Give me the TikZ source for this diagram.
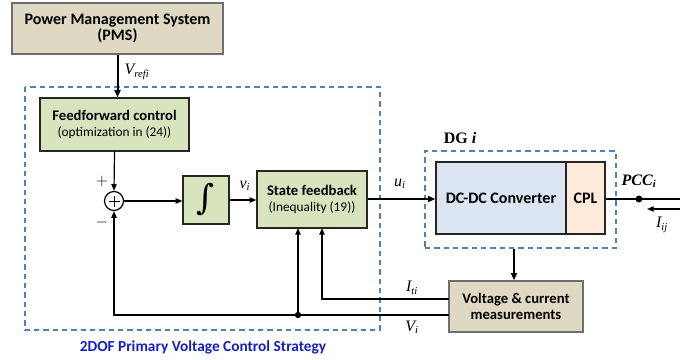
\documentclass[tikz,border=0pt]{standalone}
\usepackage{fontspec}
\setmainfont{Carlito}
\newfontfamily\tnr{Liberation Serif}
\newfontfamily\djs{DejaVu Serif}
\usetikzlibrary{arrows.meta,calc}
\definecolor{pmsfill}{RGB}{221,217,195}
\definecolor{grfill}{RGB}{215,228,189}
\definecolor{dcfill}{RGB}{220,230,242}
\definecolor{cplfill}{RGB}{253,234,218}
\definecolor{frameblue}{RGB}{79,129,189}
\definecolor{capblue}{RGB}{20,30,200}
\definecolor{boxgray}{RGB}{110,110,110}
\newcommand\mylab[2]{{\tnr\itshape #1}\textsubscript{\tnr\itshape #2}}
\tikzset{
  blk/.style={draw=#1, line width=1pt, inner sep=0pt, align=center},
  ar/.style={-{Triangle[length=5pt,width=4pt]}, line width=0.9pt},
  thk/.style={-{Triangle[length=5.5pt,width=4.5pt]}, line width=1.5pt},
  dframe/.style={draw=frameblue, dashed, dash pattern=on 4pt off 3pt, line width=0.9pt},
  lbl/.style={font=\fontsize{12}{12}\selectfont},
}
\begin{document}
\begin{tikzpicture}[x=0.75pt,y=-0.75pt]
\useasboundingbox (0,0) rectangle (696,360);
% outer dashed frame
\draw[dframe] (25,87) rectangle (380,330);
\node[dframe, minimum width=143.25pt, minimum height=72.75pt, inner sep=0pt] (dg) at (520.5,199.5) {};
% blocks
\node[blk=boxgray, fill=pmsfill, minimum width=158.25pt, minimum height=38.25pt] (pms) at (117.5,28.5)
  {\fontsize{12}{15}\selectfont\bfseries Power Management System\\ \fontsize{12}{15}\selectfont\bfseries (PMS)};
\node[blk=black!85, fill=grfill, minimum width=111.75pt, minimum height=39.75pt] (ff) at (114.5,124.5)
  {\fontsize{11}{14}\selectfont\bfseries Feedforward control\\ \fontsize{10}{13}\selectfont (optimization in (24))};
\node[draw, circle, line width=0.9pt, minimum size=14.25pt, inner sep=0pt] (sum) at (114,201) {};
\draw[line width=0.6pt] ($(sum.center)+(-5.5,0)$) -- ($(sum.center)+(5.5,0)$);
\draw[line width=0.6pt] ($(sum.center)+(0,-5.5)$) -- ($(sum.center)+(0,5.5)$);
\node[blk=black!85, fill=grfill, minimum width=34.5pt, minimum height=36pt] (int) at (206,200)
  {\djs\fontsize{26}{26}\selectfont ∫};
\node[blk=black!85, fill=grfill, minimum width=82.5pt, minimum height=42.75pt] (sf) at (312,199.5)
  {\fontsize{11}{14}\selectfont\bfseries State feedback\\ \fontsize{10}{13}\selectfont (Inequality (19))};
\node[blk=black!85, fill=dcfill, minimum width=97.5pt, minimum height=54pt] (dc) at (501,198)
  {\fontsize{12}{14}\selectfont\bfseries DC-DC Converter};
\node[blk=black!85, fill=cplfill, minimum width=29.25pt, minimum height=54pt] (cpl) at (585.5,198)
  {\fontsize{12}{14}\selectfont\bfseries CPL};
\node[blk=boxgray, fill=pmsfill, minimum width=100.5pt, minimum height=38.25pt] (meas) at (516,306.5)
  {\fontsize{11}{14}\selectfont\bfseries Voltage \& current\\ \fontsize{11}{14}\selectfont\bfseries measurements};
% coordinates
\coordinate (iti) at (449,299);
\coordinate (vim) at (449,315);
\coordinate (itcorner) at (322,299);
\coordinate (sfI) at (322,228);
\coordinate (vdot) at (298,315);
\coordinate (sfV) at (298,228);
\coordinate (vcorner) at (114,315);
\coordinate (pccend) at (680,199);
\coordinate (pcc) at (639,199);
\coordinate (ijs) at (680,209);
\coordinate (ije) at (647,209);
% connectors
\draw[thk] (pms.south) -- (pms.south |- ff.north);
\draw[ar] (ff.south) -- (sum.north);
\draw[ar] (sum.east) -- (sum.east -| int.west);
\draw[ar] (int.east) -- (int.east -| sf.west);
\draw[thk] (sf.east |- 0,199) -- (dc.west |- 0,199);
\draw[line width=1.5pt] (cpl.east |- pcc) -- (pccend);
\fill (pcc) circle (3.5);
\draw[ar] (ijs) -- (ije);
\draw[thk] (dg.south -| 514,0) -- (meas.north -| 514,0);
\draw[ar] (iti) -- (itcorner) -- (sfI);
\draw[ar] (vim) -- (vcorner) -- (sum.south);
\draw[ar] (vdot) -- (sfV);
\fill (vdot) circle (3.2);
% labels
\node[lbl] at (137,72) {\mylab{V}{refi}};
\node[font=\fontsize{12}{12}\selectfont] at (102,181) {$+$};
\node[font=\fontsize{12}{12}\selectfont] at (102,222) {$-$};
\node[lbl] at (245,186) {\mylab{v}{i}};
\node[lbl] at (400,184) {\mylab{u}{i}};
\node[lbl] at (412,288) {\mylab{I}{ti}};
\node[lbl] at (412,327) {\mylab{V}{i}};
\node[font=\tnr\fontsize{12}{12}\selectfont\bfseries\itshape] at (639,181) {PCC\textsubscript{\itshape i}};
\node[lbl] at (662,225) {\mylab{I}{ij}};
\node[font=\tnr\fontsize{12}{12}\selectfont\bfseries] at (460,138) {DG \textit{i}};
\node[font=\fontsize{11.5}{13}\selectfont\bfseries, text=capblue] at (203,347) {2DOF Primary Voltage Control Strategy};
\end{tikzpicture}
\end{document}
